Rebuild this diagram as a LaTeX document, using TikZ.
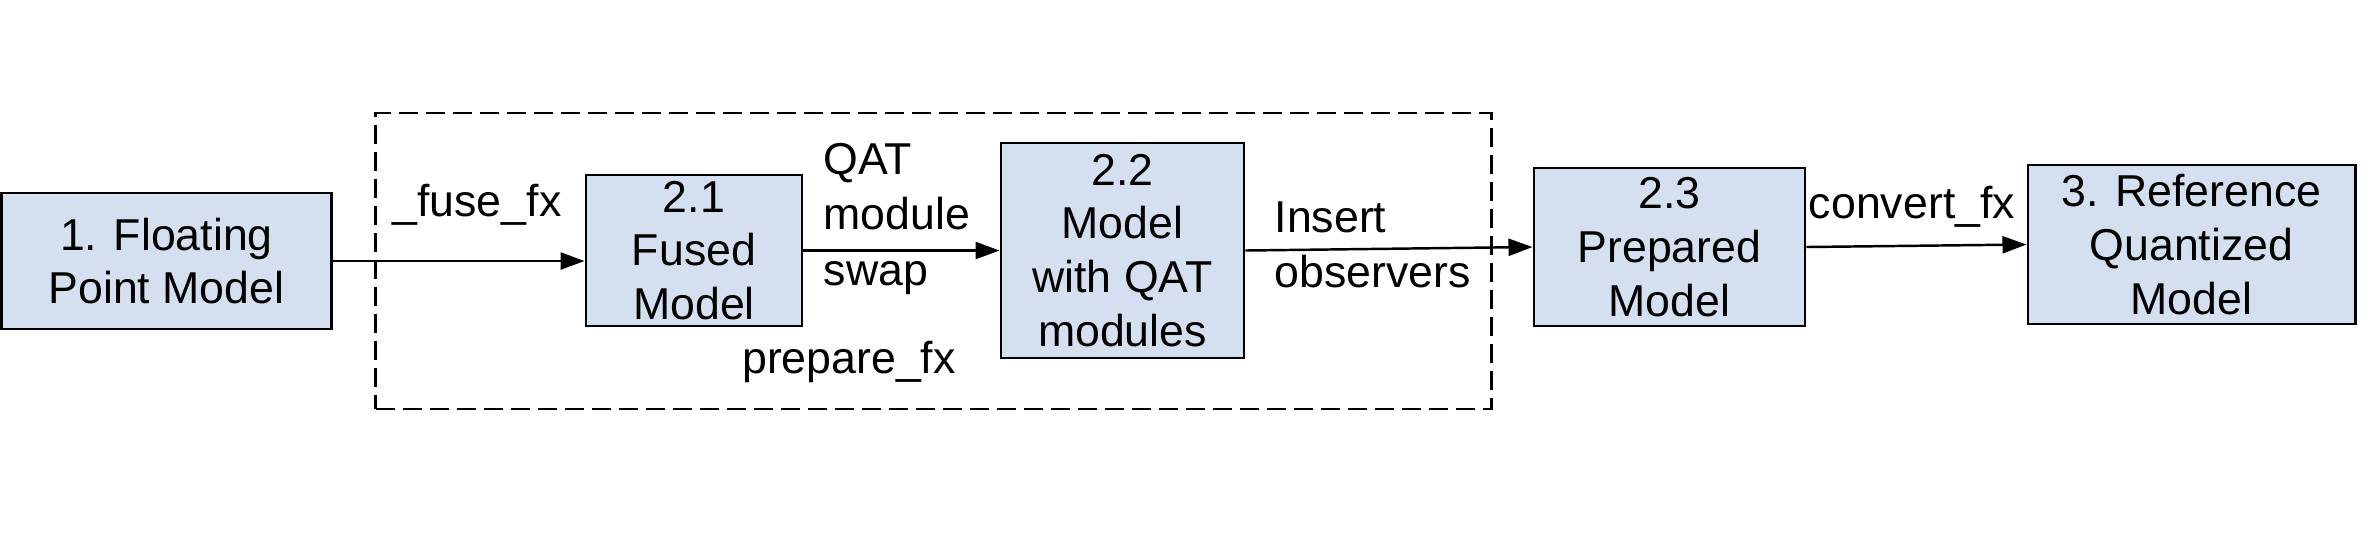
\documentclass[tikz,border=0pt]{standalone}
\usepackage{fontspec}
\setsansfont{Liberation Sans}
\usetikzlibrary{arrows.meta, positioning}
\definecolor{boxBlue}{RGB}{212, 224, 240}
\definecolor{lineBlack}{RGB}{0, 0, 0}
\tikzset{
    stageBox/.style={
        rectangle,
        draw=lineBlack,
        line width=0.8pt,
        fill=boxBlue,
        inner sep=0pt,
        align=center,
        font=\sffamily\fontsize{12.7}{15.3}\selectfont
    },
    stepLabel/.style={
        inner sep=0pt,
        align=left,
        font=\sffamily\fontsize{12.7}{15.8}\selectfont
    },
    groupFrame/.style={
        rectangle,
        draw=lineBlack,
        line width=0.75pt,
        dash pattern=on 0.19cm off 0.08cm,
        inner sep=0pt
    },
    flowArrow/.style={
        draw=lineBlack,
        line width=0.7pt,
        -{Triangle[length=0.24cm, width=0.17cm]}
    }
}
\begin{document}
\begin{tikzpicture}[x=0.01cm, y=-0.01cm]
    \useasboundingbox (0,0) rectangle (2368,544);

    % Prepare group
    \node[groupFrame, minimum width=11.15cm, minimum height=2.96cm] (prepare) at (933.5, 261) {};

    % Stages
    \node[stageBox, minimum width=3.29cm, minimum height=1.36cm] (float) at (166.5, 261) {1. Floating\\Point Model};
    \node[stageBox, minimum width=2.16cm, minimum height=1.51cm] (fused) at (694, 250.5) {2.1\\Fused\\Model};
    \node[stageBox, minimum width=2.43cm, minimum height=2.15cm] (qat) at (1122.5, 250.5) {2.2\\Model\\with QAT\\modules};
    \node[stageBox, minimum width=2.71cm, minimum height=1.58cm] (prepared) at (1669.5, 247) {2.3\\Prepared\\Model};
    \node[stageBox, minimum width=3.27cm, minimum height=1.59cm] (quant) at (2191.5, 244.5) {3. Reference\\Quantized\\Model};

    % Edges
    \draw[flowArrow] (float.east) -- (float.east -| fused.west);
    \draw[flowArrow] (fused) -- (qat);
    \draw[flowArrow] (qat.east) -- (prepared.west);
    \draw[flowArrow] (prepared.east) -- (quant.west);

    % Labels
    \node[stepLabel] (fuseLbl) at (477, 205) {\_fuse\_fx};
    \node[stepLabel, anchor=west] (swapLbl) at (823, 219) {QAT\\module\\swap};
    \node[stepLabel] (prepLbl) at (849, 362) {prepare\_fx};
    \node[stepLabel, anchor=west] (obsLbl) at (1274, 245) {Insert\\observers};
    \node[stepLabel] (convLbl) at (1912, 207) {convert\_fx};
\end{tikzpicture}
\end{document}
